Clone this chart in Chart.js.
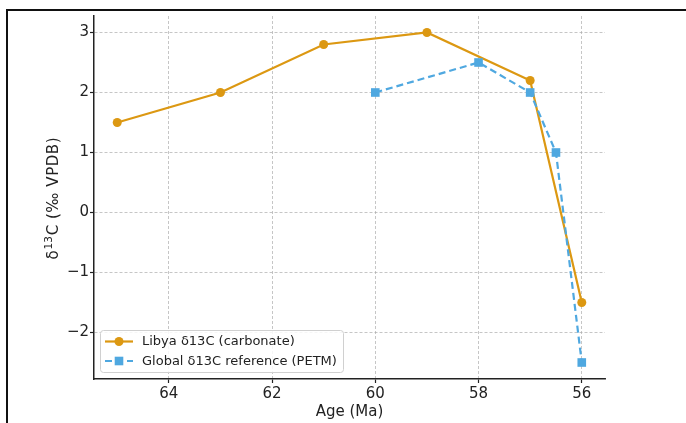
<!DOCTYPE html>
<html>
<head>
<meta charset="utf-8">
<script src="https://cdn.jsdelivr.net/npm/chart.js@4"></script>
<style>
  html, body { margin: 0; padding: 0; background: #ffffff; }
  canvas { display: block; }
</style>
</head>
<body>
<canvas id="c" width="686" height="423"></canvas>
<script>
// ---- data ----
const libyaLabel = 'Libya δ13C (carbonate)';
const libyaAges = [65, 63, 61, 59, 57, 56];
const libyaD13C = [1.5, 2.0, 2.8, 3.0, 2.2, -1.5];

const globalLabel = 'Global δ13C reference (PETM)';
const globalAges = [60, 58, 57, 56.5, 56];
const globalD13C = [2.0, 2.5, 2.0, 1.0, -2.5];

const xTicks = [56, 58, 60, 62, 64];
const yTicks = [-2, -1, 0, 1, 2, 3];

const xTitle = 'Age (Ma)';
const yTitleParts = ['δ', '13', 'C (‰ VPDB)'];

// ---- styling ----
const ORANGE = '#DC9812';
const BLUE = '#4FA8E0';
const FONT = '"DejaVu Sans", sans-serif';
const fmt = v => (v < 0 ? '\u2212' + Math.abs(v) : String(v));

const framePlugin = {
  id: 'frame',
  afterDraw(chart) {
    const ctx = chart.ctx;
    ctx.save();
    ctx.strokeStyle = '#111';
    ctx.lineWidth = 2;
    ctx.beginPath();
    ctx.moveTo(7, 423);
    ctx.lineTo(7, 10);
    ctx.lineTo(686, 10);
    ctx.stroke();
    ctx.restore();
  }
};

const yTitlePlugin = {
  id: 'yTitle',
  afterDraw(chart) {
    const ctx = chart.ctx;
    const area = chart.chartArea;
    const cy = (area.top + area.bottom) / 2 + 1;
    const cx = 54;
    const big = '15px ' + FONT, small = '10.5px ' + FONT;
    const target = 122;
    ctx.save();
    ctx.font = big;
    const w0 = ctx.measureText(yTitleParts[0]).width;
    const w2 = ctx.measureText(yTitleParts[2]).width;
    ctx.font = small;
    const w1 = ctx.measureText(yTitleParts[1]).width;
    const gap = 0.8;
    const natural = w0 + w1 + w2 + 2 * gap;
    const spacing = Math.max(0, (target - natural) / (yTitleParts[2].length - 1));
    const total = natural + spacing * (yTitleParts[2].length - 1);
    ctx.translate(cx, cy);
    ctx.rotate(-Math.PI / 2);
    ctx.fillStyle = '#222';
    ctx.textBaseline = 'middle';
    ctx.textAlign = 'left';
    let x = -total / 2;
    ctx.font = big;
    ctx.fillText(yTitleParts[0], x, 0);
    x += w0 + gap;
    ctx.font = small;
    ctx.fillText(yTitleParts[1], x, -4.5);
    x += w1 + gap;
    ctx.font = big;
    try { ctx.letterSpacing = spacing.toFixed(2) + 'px'; } catch (e) {}
    ctx.fillText(yTitleParts[2], x, 0);
    ctx.restore();
  }
};

const legendPlugin = {
  id: 'customLegend',
  afterDraw(chart) {
    const ctx = chart.ctx;
    const x = 100.5, y = 330.5, w = 243, h = 42, r = 3;
    ctx.save();
    ctx.beginPath();
    ctx.moveTo(x + r, y);
    ctx.lineTo(x + w - r, y);
    ctx.quadraticCurveTo(x + w, y, x + w, y + r);
    ctx.lineTo(x + w, y + h - r);
    ctx.quadraticCurveTo(x + w, y + h, x + w - r, y + h);
    ctx.lineTo(x + r, y + h);
    ctx.quadraticCurveTo(x, y + h, x, y + h - r);
    ctx.lineTo(x, y + r);
    ctx.quadraticCurveTo(x, y, x + r, y);
    ctx.closePath();
    ctx.fillStyle = 'rgba(255,255,255,0.85)';
    ctx.fill();
    ctx.strokeStyle = '#d0d0d0';
    ctx.lineWidth = 1;
    ctx.stroke();

    const items = chart.data.datasets.slice().sort((a, b) => a.legendIndex - b.legendIndex);
    const rows = [341.5, 361];
    items.forEach((ds, i) => {
      const cy = rows[i];
      ctx.strokeStyle = ds.borderColor;
      ctx.lineWidth = 2.2;
      ctx.setLineDash(ds.borderDash || []);
      ctx.beginPath();
      ctx.moveTo(105, cy);
      ctx.lineTo(133, cy);
      ctx.stroke();
      ctx.setLineDash([]);
      ctx.fillStyle = ds.pointBackgroundColor;
      if (ds.pointStyle === 'rect') {
        ctx.fillRect(119 - 4.3, cy - 4.3, 8.6, 8.6);
      } else {
        ctx.beginPath();
        ctx.arc(119, cy, 4.5, 0, Math.PI * 2);
        ctx.fill();
      }
      ctx.fillStyle = '#222';
      ctx.font = '13px ' + FONT;
      ctx.textBaseline = 'middle';
      ctx.textAlign = 'left';
      ctx.fillText(ds.label, 142, cy + 0.5);
    });
    ctx.restore();
  }
};

const gridOpts = {
  color: 'rgba(170,170,170,0.75)',
  lineWidth: 0.9,
  drawTicks: true,
  tickColor: '#222',
  tickLength: 4,
  tickWidth: 1.2
};

new Chart(document.getElementById('c'), {
  type: 'line',
  data: {
    datasets: [
      {
        label: libyaLabel,
        legendIndex: 0,
        order: 2,
        data: libyaAges.map((a, i) => ({ x: a, y: libyaD13C[i] })),
        borderColor: ORANGE,
        backgroundColor: ORANGE,
        pointBackgroundColor: ORANGE,
        pointBorderColor: ORANGE,
        borderWidth: 2.2,
        pointStyle: 'circle',
        pointRadius: 4.5,
        pointBorderWidth: 0,
        tension: 0,
        fill: false
      },
      {
        label: globalLabel,
        legendIndex: 1,
        order: 1,
        data: globalAges.map((a, i) => ({ x: a, y: globalD13C[i] })),
        borderColor: BLUE,
        backgroundColor: BLUE,
        pointBackgroundColor: BLUE,
        pointBorderColor: BLUE,
        borderWidth: 2.2,
        borderDash: [7, 4],
        pointStyle: 'rect',
        pointRadius: 6.1,
        pointBorderWidth: 0,
        tension: 0,
        fill: false
      }
    ]
  },
  options: {
    responsive: false,
    devicePixelRatio: 1,
    animation: false,
    layout: { padding: { top: 16, right: 81, left: 0, bottom: 0 } },
    plugins: {
      legend: { display: false },
      tooltip: { enabled: false },
      title: { display: false }
    },
    scales: {
      x: {
        type: 'linear',
        reverse: true,
        min: 55.55,
        max: 65.45,
        afterBuildTicks: s => { s.ticks = xTicks.map(v => ({ value: v })); },
        afterFit: s => { s.height = 44; },
        ticks: {
          callback: v => fmt(v),
          color: '#222',
          font: { family: FONT, size: 15 },
          padding: 2,
          autoSkip: false,
          maxRotation: 0
        },
        grid: gridOpts,
        border: { display: true, color: '#222', width: 1.5, dash: [3, 2] },
        title: {
          display: true,
          text: xTitle,
          color: '#222',
          font: { family: FONT, size: 15 },
          padding: { top: 0, bottom: 2.2 }
        }
      },
      y: {
        type: 'linear',
        min: -2.775,
        max: 3.275,
        afterBuildTicks: s => { s.ticks = yTicks.map(v => ({ value: v })); },
        afterFit: s => { s.width = 94; },
        ticks: {
          callback: v => fmt(v),
          color: '#222',
          font: { family: FONT, size: 15 },
          padding: 1,
          autoSkip: false
        },
        grid: gridOpts,
        border: { display: true, color: '#222', width: 1.5, dash: [3, 2] },
        title: { display: false }
      }
    }
  },
  plugins: [legendPlugin, yTitlePlugin, framePlugin]
});
</script>
</body>
</html>
